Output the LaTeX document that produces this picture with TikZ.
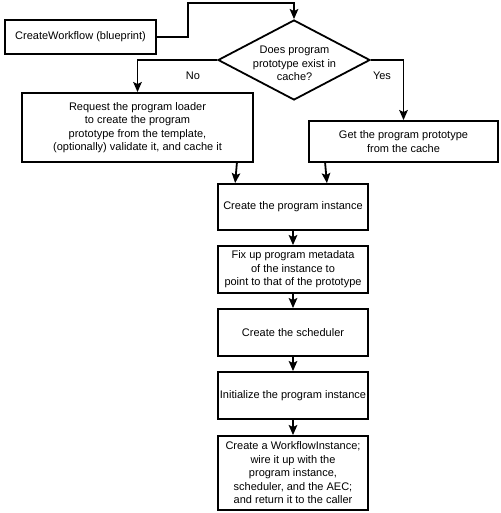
\documentclass[tikz,border=0pt]{standalone}
\usepackage{fontspec}
\setmainfont{Liberation Sans}
\usetikzlibrary{shapes.geometric,arrows.meta}
\tikzset{
  box/.style={draw, line width=1.8pt, rectangle, inner sep=0pt, align=center,
    font=\fontsize{11}{13.5}\selectfont},
  dec/.style={draw, line width=1.8pt, diamond, inner sep=0pt},
  lbl/.style={inner sep=0pt, align=center, font=\fontsize{11}{13.5}\selectfont},
  arr/.style={line width=1.8pt, -{Stealth[length=10pt,width=8.5pt,inset=2pt]}},
}
\begin{document}
\begin{tikzpicture}[x=1pt,y=-1pt]
\fill[white] (0,0) rectangle (500,513);
\useasboundingbox (0,0) rectangle (500,513);
\node[box, minimum width=151pt, minimum height=34pt] (cw) at (80.5,37) {CreateWorkflow (blueprint)};
\node[dec, minimum width=152pt, minimum height=80pt] (d) at (294,60) {};
\node[lbl] (dt) at (294.5,63.5) {Does program\\prototype exist in\\cache?};
\node[lbl] (no) at (193,76) {No};
\node[lbl] (yes) at (382,76) {Yes};
\node[box, minimum width=231pt, minimum height=69pt] (lb) at (137.5,127.5)
  {Request the program loader\\to create the program\\prototype from the template,\\(optionally) validate it, and cache it};
\node[box, minimum width=189pt, minimum height=41pt] (rb) at (403.5,141.5)
  {Get the program prototype\\from the cache};
\node[box, minimum width=150pt, minimum height=46pt] (ci) at (293,207) {Create the program instance};
\node[box, minimum width=150pt, minimum height=47pt] (fx) at (293,269.5)
  {Fix up program metadata\\of the instance to\\point to that of the prototype};
\node[box, minimum width=150pt, minimum height=47pt] (cs) at (293,332.5) {Create the scheduler};
\node[box, minimum width=150pt, minimum height=47pt] (ip) at (293,395.5) {Initialize the program instance};
\node[box, minimum width=150pt, minimum height=74pt] (wf) at (293,473)
  {Create a WorkflowInstance;\\wire it up with the\\program instance,\\scheduler, and the AEC;\\and return it to the caller};
\coordinate (j1) at (188,3);
\draw[arr] (cw.east) -| (j1) -| (d.north);
\draw[arr] (d.west) -| (lb.north);
\draw[arr] (d.east) -| (rb.north);
\draw[arr] ([xshift=-17pt]lb.south east) -- ([xshift=18pt]ci.north west);
\draw[arr] ([xshift=17pt]rb.south west) -- ([xshift=-42pt]ci.north east);
\draw[arr] (ci) -- (fx);
\draw[arr] (fx) -- (cs);
\draw[arr] (cs) -- (ip);
\draw[arr] (ip) -- (wf);
\end{tikzpicture}
\end{document}
